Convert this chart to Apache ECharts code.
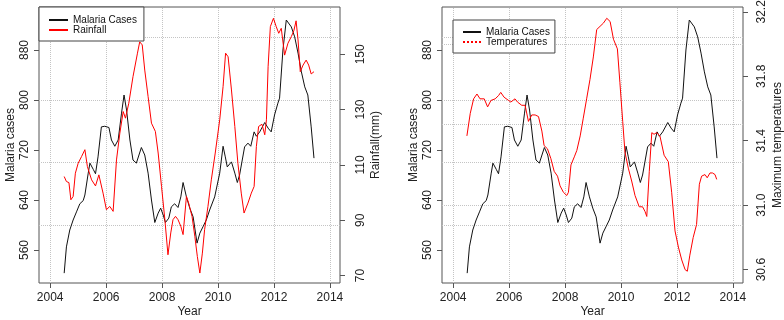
<!DOCTYPE html>
<html>
<head>
<meta charset="utf-8">
<script src="https://cdn.jsdelivr.net/npm/echarts@6/dist/echarts.min.js"></script>
<style>
  html, body { margin: 0; padding: 0; background: #fff; }
  #chart { width: 784px; height: 320px; }
</style>
</head>
<body>
<div id="chart"></div>
<script>
// monthly-ish readings, shared by both panels
const malariaYears = [
  2004.50, 2004.58, 2004.70, 2004.82, 2004.94, 2005.06, 2005.18, 2005.24, 2005.36, 2005.42,
  2005.54, 2005.62, 2005.71, 2005.83, 2005.95, 2006.10, 2006.19, 2006.31, 2006.43, 2006.55,
  2006.64, 2006.73, 2006.85, 2006.96, 2007.08, 2007.26, 2007.38, 2007.50, 2007.62, 2007.74,
  2007.86, 2007.95, 2008.04, 2008.12, 2008.24, 2008.33, 2008.45, 2008.57, 2008.67, 2008.75,
  2008.87, 2008.99, 2009.11, 2009.25, 2009.35, 2009.46, 2009.58, 2009.70, 2009.88, 2010.06,
  2010.18, 2010.26, 2010.33, 2010.48, 2010.60, 2010.69, 2010.77, 2010.95, 2011.07, 2011.17,
  2011.29, 2011.37, 2011.49, 2011.67, 2011.79, 2011.90, 2012.02, 2012.14, 2012.20, 2012.32,
  2012.44, 2012.50, 2012.62, 2012.74, 2012.86, 2012.98, 2013.10, 2013.21, 2013.33, 2013.43
]
const malariaCases = [
  523, 565, 592, 608, 621, 634, 639, 648, 683, 699,
  689, 682, 709, 757, 758, 756, 736, 726, 736, 779,
  808, 784, 736, 704, 699, 724, 712, 683, 640, 604,
  619, 627, 616, 604, 611, 629, 634, 628, 645, 668,
  645, 627, 613, 571, 587, 597, 608, 624, 645, 683,
  726, 709, 693, 701, 683, 668, 680, 725, 731, 726,
  749, 742, 749, 764, 755, 749, 776, 795, 803, 880,
  928, 930, 917, 901, 875, 845, 821, 808, 757, 707
]

const rainYears = [
  2004.50, 2004.58, 2004.67, 2004.74, 2004.82, 2004.90, 2005.00, 2005.12, 2005.24, 2005.33,
  2005.48, 2005.62, 2005.74, 2005.89, 2006.01, 2006.13, 2006.25, 2006.37, 2006.49, 2006.61,
  2006.69, 2006.81, 2006.96, 2007.12, 2007.20, 2007.29, 2007.38, 2007.50, 2007.62, 2007.76,
  2007.86, 2007.98, 2008.10, 2008.21, 2008.31, 2008.39, 2008.48, 2008.57, 2008.67, 2008.75,
  2008.87, 2008.95, 2009.07, 2009.17, 2009.26, 2009.35, 2009.44, 2009.52, 2009.64, 2009.76,
  2009.90, 2010.06, 2010.18, 2010.27, 2010.36, 2010.48, 2010.60, 2010.71, 2010.83, 2010.93,
  2011.07, 2011.19, 2011.29, 2011.37, 2011.45, 2011.57, 2011.67, 2011.73, 2011.79, 2011.87,
  2011.98, 2012.08, 2012.17, 2012.26, 2012.38, 2012.50, 2012.62, 2012.71, 2012.79, 2012.86,
  2012.94, 2013.04, 2013.15, 2013.24, 2013.33, 2013.43
]
const rainfall = [
  105.8, 104.0, 103.6, 97.4, 98.6, 107.0, 110.6, 113.0, 115.5, 109.4,
  104.6, 102.4, 106.4, 99.8, 93.8, 95.0, 93.2, 111.8, 121.5, 129.3,
  126.9, 132.3, 141.9, 150.4, 154.5, 153.4, 144.3, 134.7, 125.1, 122.1,
  114.3, 102.2, 90.2, 77.5, 85.4, 90.2, 91.4, 90.2, 87.8, 84.8,
  98.6, 96.2, 91.4, 84.2, 76.9, 70.9, 78.1, 86.6, 95.0, 104.6,
  114.3, 126.3, 138.3, 150.4, 149.1, 137.1, 123.9, 110.6, 99.8, 92.6,
  96.2, 99.8, 102.2, 116.6, 123.9, 124.7, 120.9, 126.3, 145.5, 160.0,
  163.0, 160.0, 157.6, 159.4, 149.7, 154.0, 156.4, 158.5, 162.1, 155.2,
  143.7, 146.1, 147.9, 146.1, 142.9, 143.7
]

const tempYears = [
  2004.49, 2004.61, 2004.73, 2004.85, 2004.96, 2005.11, 2005.23, 2005.35, 2005.50, 2005.62,
  2005.70, 2005.82, 2005.98, 2006.06, 2006.21, 2006.30, 2006.45, 2006.57, 2006.69, 2006.81,
  2006.93, 2007.05, 2007.17, 2007.25, 2007.37, 2007.49, 2007.61, 2007.73, 2007.82, 2007.94,
  2008.06, 2008.12, 2008.21, 2008.33, 2008.42, 2008.54, 2008.65, 2008.77, 2008.89, 2009.01,
  2009.13, 2009.25, 2009.37, 2009.49, 2009.61, 2009.73, 2009.87, 2009.96, 2010.06, 2010.14,
  2010.26, 2010.38, 2010.50, 2010.65, 2010.77, 2010.86, 2010.92, 2011.01, 2011.10, 2011.18,
  2011.27, 2011.39, 2011.54, 2011.69, 2011.81, 2011.93, 2012.05, 2012.17, 2012.29, 2012.37,
  2012.46, 2012.58, 2012.70, 2012.80, 2012.88, 2013.00, 2013.08, 2013.18, 2013.27, 2013.36, 2013.42
]
const temperature = [
  31.43, 31.57, 31.66, 31.69, 31.66, 31.66, 31.61, 31.65, 31.66, 31.68,
  31.70, 31.67, 31.65, 31.64, 31.66, 31.64, 31.62, 31.62, 31.52, 31.56,
  31.56, 31.55, 31.46, 31.37, 31.35, 31.29, 31.21, 31.18, 31.12, 31.08,
  31.06, 31.08, 31.25, 31.30, 31.34, 31.43, 31.54, 31.66, 31.78, 31.92,
  32.09, 32.11, 32.13, 32.16, 32.14, 32.03, 31.97, 31.76, 31.52, 31.33,
  31.23, 31.15, 31.06, 30.99, 30.99, 30.96, 30.93, 31.21, 31.45, 31.44,
  31.45, 31.43, 31.31, 31.27, 31.08, 30.84, 30.74, 30.66, 30.60, 30.59,
  30.69, 30.80, 30.88, 31.13, 31.18, 31.19, 31.17, 31.20, 31.20, 31.19, 31.16
]

// tick labels and the dotted grid positions
const yearTicks = [2004, 2006, 2008, 2010, 2012, 2014]
const caseTicks = [560, 640, 720, 800, 880]
const rainTicks = [70, 90, 110, 130, 150]
const tempTicks = [30.6, 31.0, 31.4, 31.8, 32.2]
const caseGrid = [600, 700, 800, 900]
const tempGrid = [31.0, 31.5, 32.0]

const FONT = 'Liberation Sans, Arial, sans-serif'
const INK = '#222'
const BOX = '#555'

const pairs = (xs, ys) => xs.map((x, i) => [x, ys[i]])

const gridLines = (hVals, vVals = []) => ({
    silent: true,
    symbol: 'none',
    z: 1,
    label: { show: false },
    lineStyle: { type: 'dotted', color: '#c4c4c4', width: 1 },
    data: [
        ...hVals.map(v => ({ yAxis: v })),
        ...vVals.map(v => ({ xAxis: v }))
    ]
})

const xAxisFor = (gridIndex) => ({
    type: 'value',
    gridIndex,
    min: 2003.6,
    max: 2014.36,
    name: 'Year',
    nameLocation: 'middle',
    nameGap: 23,
    nameMoveOverlap: false,
    nameTextStyle: { fontFamily: FONT, fontSize: 12, color: INK },
    axisLine: { show: false },
    axisTick: { show: true, length: 5, customValues: yearTicks, lineStyle: { color: BOX } },
    axisLabel: {
        customValues: yearTicks,
        fontFamily: FONT, fontSize: 12, color: INK, margin: 9,
        formatter: v => String(v)
    },
    splitLine: { show: false }
})

const yAxisFor = ({ gridIndex, position, min, max, ticks, name, nameGap, margin, fmt = v => String(v) }) => ({
    type: 'value',
    gridIndex,
    position,
    min,
    max,
    name,
    nameLocation: 'middle',
    nameRotate: 90,
    nameGap,
    nameMoveOverlap: false,
    nameTextStyle: { fontFamily: FONT, fontSize: 12, color: INK },
    axisLine: { show: false },
    axisTick: { show: true, length: 5, customValues: ticks, lineStyle: { color: BOX } },
    axisLabel: {
        customValues: ticks,
        rotate: 90,
        margin,
        fontFamily: FONT,
        fontSize: 12,
        color: INK,
        formatter: fmt
    },
    splitLine: { show: false }
})

const legendFor = ({ left, top, data, padding, itemWidth, itemTextGap, itemHeight }) => ({
    left,
    top,
    orient: 'vertical',
    data,
    backgroundColor: '#fff',
    borderColor: '#444',
    borderWidth: 1,
    borderRadius: 0,
    padding,
    itemWidth,
    itemHeight,
    itemGap: 0,
    itemTextGap,
    selectedMode: false,
    // line only, no marker dot
    itemStyle: { opacity: 0 },
    textStyle: { fontFamily: FONT, fontSize: 10, color: '#111' }
})

const chart = echarts.init(document.getElementById('chart'))
chart.setOption({
    animation: false,
    backgroundColor: '#fff',
    grid: [
        { left: 39, top: 7, width: 301, height: 276, show: true, borderColor: BOX, borderWidth: 1, outerBoundsMode: 'none' },
        { left: 442, top: 7, width: 301, height: 276, show: true, borderColor: BOX, borderWidth: 1, outerBoundsMode: 'none' }
    ],
    legend: [
        legendFor({
            left: 39, top: 7,
            data: ['Malaria Cases', 'Rainfall'],
            padding: [8, 7, 6, 9], itemWidth: 19, itemTextGap: 6, itemHeight: 11
        }),
        legendFor({
            left: 453, top: 20,
            data: ['Malaria Cases', { name: 'Temperatures', lineStyle: { type: 'dotted' } }],
            padding: [7, 5, 6, 9], itemWidth: 18, itemTextGap: 8, itemHeight: 12
        })
    ],
    xAxis: [xAxisFor(0), xAxisFor(1)],
    yAxis: [
        yAxisFor({ gridIndex: 0, position: 'left', min: 507.2, max: 948.8, ticks: caseTicks, name: 'Malaria cases', nameGap: 22, margin: 8 }),
        yAxisFor({ gridIndex: 0, position: 'right', min: 67.3, max: 167.1, ticks: rainTicks, name: 'Rainfall(mm)', nameGap: 30, margin: 15 }),
        yAxisFor({ gridIndex: 1, position: 'left', min: 507.2, max: 948.8, ticks: caseTicks, name: 'Malaria cases', nameGap: 22, margin: 8 }),
        yAxisFor({ gridIndex: 1, position: 'right', min: 30.517, max: 32.23, ticks: tempTicks, name: 'Maximum temperatures', nameGap: 29, margin: 13, fmt: v => v.toFixed(1) })
    ],
    series: [
        {
            name: 'Malaria Cases', type: 'line', xAxisIndex: 0, yAxisIndex: 0,
            symbol: 'none', color: '#111', lineStyle: { width: 1, color: '#111' },
            data: pairs(malariaYears, malariaCases),
            markLine: gridLines(caseGrid, yearTicks)
        },
        {
            name: 'Rainfall', type: 'line', xAxisIndex: 0, yAxisIndex: 1,
            symbol: 'none', color: '#ff0000', lineStyle: { width: 1, color: '#ff0000' },
            data: pairs(rainYears, rainfall)
        },
        {
            name: 'Malaria Cases', type: 'line', xAxisIndex: 1, yAxisIndex: 2,
            symbol: 'none', color: '#111', lineStyle: { width: 1, color: '#111' },
            data: pairs(malariaYears, malariaCases),
            markLine: gridLines(caseGrid, yearTicks)
        },
        {
            name: 'Temperatures', type: 'line', xAxisIndex: 1, yAxisIndex: 3,
            symbol: 'none', color: '#ff0000', lineStyle: { width: 1, color: '#ff0000' },
            data: pairs(tempYears, temperature),
            markLine: gridLines(tempGrid)
        }
    ]
})
</script>
</body>
</html>
